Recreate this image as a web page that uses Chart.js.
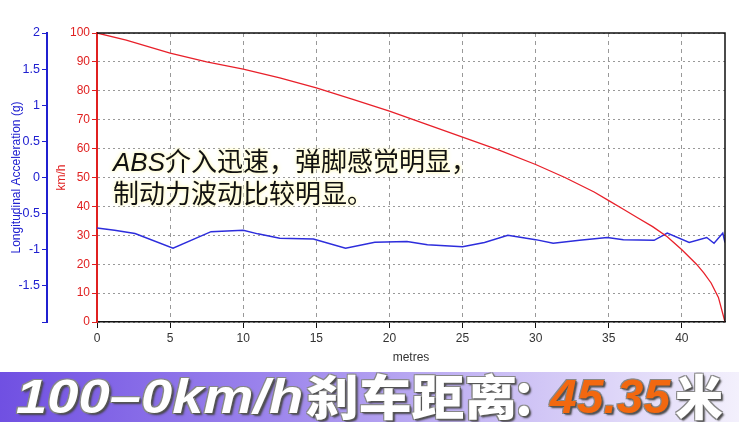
<!DOCTYPE html>
<html>
<head>
<meta charset="utf-8">
<script src="https://cdn.jsdelivr.net/npm/chart.js@4.4.1/dist/chart.umd.min.js"></script>
<style>
  html, body { margin: 0; padding: 0; background: #fff; }
  #wrap { position: relative; width: 739px; height: 422px; overflow: hidden; }
  #chartBox { position: absolute; left: 0; top: 0; width: 739px; height: 372px; }
  #note {
    position: absolute; left: 113px; top: 145px;
    font-family: "Noto Sans CJK SC", sans-serif; font-size: 26px; line-height: 30px;
    color: #111; white-space: nowrap;
    text-shadow: 0 0 2px #fffbd0, 0 0 3px #fffbd0, 0 0 5px #fff6b0;
  }
  #note i { font-family: "Liberation Sans", sans-serif; font-style: italic; }
  #banner {
    position: absolute; left: 0; top: 372px; width: 739px; height: 50px;
    background: linear-gradient(to right, #7050e2 0%, #9a82ec 35%, #cdc1f5 70%, #f3f0fc 100%);
  }
  #banner span {
    position: absolute; top: -3px; white-space: nowrap;
    font-size: 48px; line-height: 56px; font-weight: 900; color: #fff;
    text-shadow: 1px 1px 0 #555, -1px -1px 0 #888, 1px -1px 0 #888, -1px 1px 0 #888, 2px 2px 2px #444;
    transform-origin: left center;
  }
  #banner .lat { font-family: "Liberation Sans", sans-serif; font-style: italic; }
  #banner .cjk { font-family: "Noto Sans CJK SC", sans-serif; top: -6px; }
  #banner .num { color: #f26810; }
</style>
</head>
<body>
<div id="wrap">
  <div id="chartBox"><canvas id="brakeChart" width="739" height="372"></canvas></div>
  <div id="note"><i>ABS</i>介入迅速，弹脚感觉明显，<br>制动力波动比较明显。</div>
  <div id="banner">
    <span class="lat" style="left:16px; transform:scaleX(1.17)">100–0km/h</span>
    <span class="cjk" style="left:306px; transform:scaleX(1.1)">刹车距离</span>
    <span class="cjk" style="left:512px">：</span>
    <span class="lat num" style="left:550px">45.35</span>
    <span class="cjk" style="left:675px">米</span>
  </div>
</div>
<script>
  // speed trace (km/h) against distance (metres)
  const speedDist = [0, 2, 5, 7.5, 10, 12.5, 15, 17.5, 20, 22.5, 25, 27.5, 30, 32, 34, 35, 36, 37, 38, 39, 40, 41, 41.5, 42, 42.5, 42.95];
  const speedKmh  = [100, 97.5, 93, 90, 87.5, 84.5, 81, 77, 73, 68.5, 64, 59.5, 54.5, 50, 45, 42, 39, 36, 33, 29.5, 25, 20, 17, 13.5, 8.5, 0];

  // longitudinal acceleration (g) against distance (metres)
  const accDist = [0, 1.2, 2.6, 5.2, 7.8, 10, 11, 12.5, 14.8, 17, 19, 21.2, 22.6, 25, 26.5, 28.1, 30, 31.2, 33, 34.9, 36, 38.1, 39, 40.5, 41.7, 42.2, 42.8, 42.95];
  const accG    = [-0.70, -0.73, -0.775, -0.98, -0.75, -0.73, -0.78, -0.84, -0.85, -0.98, -0.895, -0.885, -0.93, -0.96, -0.90, -0.80, -0.86, -0.91, -0.87, -0.83, -0.86, -0.87, -0.77, -0.90, -0.83, -0.91, -0.77, -0.90];

  const xTicks = [0, 5, 10, 15, 20, 25, 30, 35, 40];

  const toPoints = (xs, ys) => xs.map((x, i) => ({ x: x, y: ys[i] }));

  // black frame round the plot area
  const frame = {
    id: 'frame',
    afterDraw(chart) {
      const a = chart.chartArea, ctx = chart.ctx;
      ctx.save();
      ctx.strokeStyle = '#111';
      ctx.lineWidth = 1.5;
      ctx.beginPath();
      ctx.moveTo(a.left, a.top);
      ctx.lineTo(a.right, a.top);
      ctx.lineTo(a.right, a.bottom);
      ctx.stroke();
      ctx.restore();
    }
  };

  const ctx = document.getElementById('brakeChart').getContext('2d');
  const brakeChart = new Chart(ctx, {
    type: 'line',
    data: {
      datasets: [{
        label: 'km/h',
        data: toPoints(speedDist, speedKmh),
        yAxisID: 'yV',
        borderColor: '#e8202a',
        borderWidth: 1.3,
        pointRadius: 0,
        tension: 0
      }, {
        label: 'g',
        data: toPoints(accDist, accG),
        yAxisID: 'yG',
        borderColor: '#2d2ddc',
        borderWidth: 1.5,
        pointRadius: 0,
        tension: 0
      }]
    },
    options: {
      responsive: false,
      animation: false,
      layout: { padding: { top: 33, right: 14, left: 4, bottom: 0 } },
      plugins: { legend: { display: false }, tooltip: { enabled: false } },
      scales: {
        x: {
          type: 'linear',
          min: 0,
          max: 42.95,
          afterBuildTicks: s => { s.ticks = xTicks.map(v => ({ value: v })); },
          afterFit: s => { s.height = 50; },
          ticks: { color: '#333', font: { family: 'Liberation Sans', size: 12 }, padding: 3 },
          grid: { color: '#999', tickColor: '#111', tickLength: 6 },
          border: { color: '#111', width: 1.5, dash: [4, 4] },
          title: { display: true, text: 'metres', color: '#333', font: { family: 'Liberation Sans', size: 12 }, padding: { top: 0, bottom: 7 } }
        },
        yV: {
          position: 'left',
          weight: 0,
          min: 0,
          max: 100,
          afterFit: s => { s.width = 50; },
          ticks: { stepSize: 10, color: '#e02020', font: { family: 'Liberation Sans', size: 12 }, padding: 2 },
          grid: { color: '#999', tickColor: '#e02020', tickLength: 5 },
          border: { color: '#e02020', width: 2, dash: [2, 3] },
          title: { display: true, text: 'km/h', color: '#e02020', font: { family: 'Liberation Sans', size: 12 }, padding: { top: 7, bottom: 0 } }
        },
        yG: {
          position: 'left',
          weight: 1,
          min: -2,
          max: 2,
          afterFit: s => { s.width = 43; },
          ticks: {
            stepSize: 0.5,
            color: '#2020d0',
            font: { family: 'Liberation Sans', size: 12.5 },
            padding: 2,
            callback: v => (v === -2 ? '' : String(v))
          },
          grid: { drawOnChartArea: false, color: '#2020d0', tickColor: '#2020d0', tickLength: 5 },
          border: { color: '#2020d0', width: 2 },
          title: { display: true, text: 'Longitudinal Acceleration (g)', color: '#2020d0', font: { family: 'Liberation Sans', size: 12 }, padding: { top: 5, bottom: 0 } }
        }
      }
    },
    plugins: [frame]
  });
</script>
</body>
</html>
